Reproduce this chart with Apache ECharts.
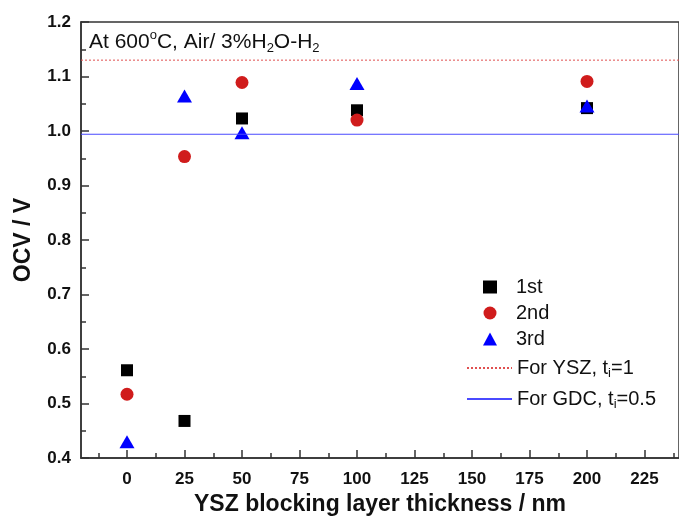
<!DOCTYPE html>
<html>
<head>
    <meta charset="utf-8">
    <script src="https://cdn.jsdelivr.net/npm/echarts@6/dist/echarts.min.js"></script>
    <style>
        body { margin: 0; background: #fff; }
        #main { width: 679px; height: 521px; }
    </style>
</head>
<body>
<div id="main"></div>
<script type="text/javascript">
    // thickness of the YSZ blocking layer (nm)
    var thickness = [0, 25, 50, 100, 200];
    // OCV readings (V) for the three runs
    var run1 = [0.561, 0.468, 1.023, 1.038, 1.042];
    var run2 = [0.517, 0.953, 1.089, 1.020, 1.091];
    var run3 = [0.430, 1.064, 0.997, 1.087, 1.046];
    // theoretical OCV levels
    var yszLevel = 1.13;
    var gdcLevel = 0.994;
    var xMin = -20, xMax = 240;
    var xMajor = [0, 25, 50, 75, 100, 125, 150, 175, 200, 225];
    var xMinor = [-12.5, 12.5, 37.5, 62.5, 87.5, 112.5, 137.5, 162.5, 187.5, 212.5, 237.5];

    function pairs(xs, ys) {
        var out = [];
        for (var i = 0; i < xs.length; i++) out.push([xs[i], ys[i]]);
        return out;
    }

    var font = 'Liberation Sans';
    var axisColor = '#333';
    var myChart = echarts.init(document.getElementById('main'));

    var richLegend = {
        a: { fontFamily: font, fontSize: 20, color: '#111', lineHeight: 24 },
        s: { fontFamily: font, fontSize: 13, color: '#111', verticalAlign: 'bottom', lineHeight: 10 }
    };

    var option = {
        animation: false,
        textStyle: { fontFamily: font },
        title: {
            left: 84, top: 24,
            text: '{a|At 600}{sup|o}{a|C, Air/ 3%H}{sub|2}{a|O-H}{sub|2}',
            textStyle: {
                rich: {
                    a: { fontFamily: font, fontSize: 21, fontWeight: 'normal', color: '#111', lineHeight: 26 },
                    sup: { fontFamily: font, fontSize: 13, fontWeight: 'normal', color: '#111', verticalAlign: 'top', lineHeight: 12 },
                    sub: { fontFamily: font, fontSize: 13, fontWeight: 'normal', color: '#111', verticalAlign: 'bottom', lineHeight: 10 }
                }
            }
        },
        grid: {
            left: 81, top: 22, right: -2, bottom: 59,
            show: true, borderColor: axisColor, borderWidth: 1.5
        },
        legend: [
            {
                data: ['1st', '2nd', '3rd'],
                orient: 'vertical', left: 478, top: 272,
                itemWidth: 14, itemHeight: 13, itemGap: 6,
                textStyle: { fontFamily: font, fontSize: 20, color: '#111', lineHeight: 20, padding: [0, 0, 0, 14] }
            },
            {
                data: ['YSZ'],
                left: 461, top: 353,
                itemWidth: 45, itemHeight: 13,
                itemStyle: { opacity: 0 },
                formatter: function () { return '{a|For YSZ, t}{s|i}{a|=1}'; },
                textStyle: { rich: richLegend }
            },
            {
                data: ['GDC'],
                left: 461, top: 384,
                itemWidth: 45, itemHeight: 13,
                itemStyle: { opacity: 0 },
                formatter: function () { return '{a|For GDC, t}{s|i}{a|=0.5}'; },
                textStyle: { rich: richLegend }
            }
        ],
        xAxis: [
            {
                type: 'value', min: xMin, max: xMax,
                name: 'YSZ blocking layer thickness / nm',
                nameLocation: 'middle', nameGap: 35,
                nameTextStyle: { fontFamily: font, fontSize: 23, fontWeight: 'bold', color: '#111' },
                axisLine: { show: true, onZero: false, lineStyle: { color: axisColor, width: 1.5 } },
                axisTick: { show: true, inside: true, length: 8, customValues: xMajor, lineStyle: { color: axisColor, width: 1.5 } },
                axisLabel: { customValues: xMajor, margin: 13, fontFamily: font, fontSize: 17, fontWeight: 'bold', color: '#111' },
                splitLine: { show: false }
            },
            {
                type: 'value', min: xMin, max: xMax, position: 'bottom',
                axisLine: { show: false, onZero: false },
                axisTick: { show: true, inside: true, length: 5, customValues: xMinor, lineStyle: { color: axisColor, width: 1.5 } },
                axisLabel: { show: false },
                splitLine: { show: false }
            }
        ],
        yAxis: {
            type: 'value', min: 0.4, max: 1.2, interval: 0.1,
            name: 'OCV / V',
            nameLocation: 'middle', nameGap: 46,
            nameTextStyle: { fontFamily: font, fontSize: 23, fontWeight: 'bold', color: '#111' },
            axisLine: { show: true, onZero: false, lineStyle: { color: axisColor, width: 1.5 } },
            axisTick: { show: true, inside: true, length: 8, lineStyle: { color: axisColor, width: 1.5 } },
            minorTick: { show: true, splitNumber: 2, length: 5, lineStyle: { color: axisColor, width: 1.5 } },
            axisLabel: {
                margin: 10, fontFamily: font, fontSize: 17, fontWeight: 'bold', color: '#111',
                formatter: function (v) { return v.toFixed(1); }
            },
            splitLine: { show: false }
        },
        series: [
            {
                name: 'YSZ', type: 'line', symbol: 'none', silent: true,
                data: [[xMin, yszLevel], [xMax, yszLevel]],
                lineStyle: { color: '#e05050', width: 1, type: [2, 2] },
                itemStyle: { color: '#e05050' }
            },
            {
                name: 'GDC', type: 'line', symbol: 'none', silent: true,
                data: [[xMin, gdcLevel], [xMax, gdcLevel]],
                lineStyle: { color: '#4a4aff', width: 1.2 },
                itemStyle: { color: '#4a4aff' }
            },
            {
                name: '1st', type: 'scatter', symbol: 'rect', symbolSize: 12,
                data: pairs(thickness, run1),
                itemStyle: { color: '#000000', opacity: 1 }
            },
            {
                name: '2nd', type: 'scatter', symbol: 'circle', symbolSize: 13,
                data: pairs(thickness, run2),
                itemStyle: { color: '#d01c1c', opacity: 1 }
            },
            {
                name: '3rd', type: 'scatter', symbol: 'triangle', symbolSize: [15, 13],
                data: pairs(thickness, run3),
                itemStyle: { color: '#0000ff', opacity: 1 }
            }
        ]
    };

    myChart.setOption(option);
</script>
</body>
</html>
